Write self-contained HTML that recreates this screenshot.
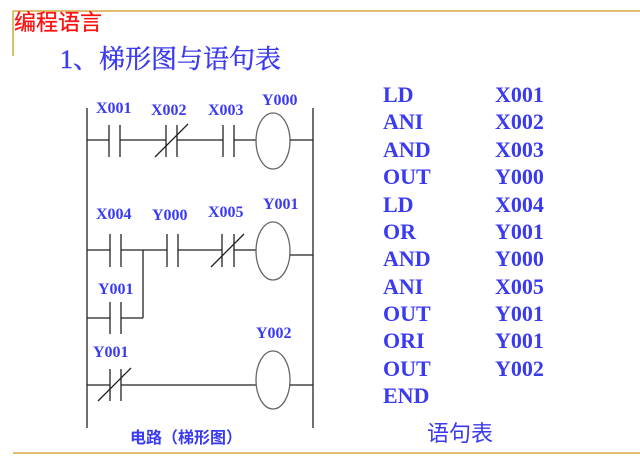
<!DOCTYPE html>
<html><head><meta charset="utf-8"><style>
body{margin:0;background:#fff;width:640px;height:464px;overflow:hidden}
</style></head><body>
<svg width="640" height="464" xmlns="http://www.w3.org/2000/svg" style="position:absolute;left:0;top:0">
<g stroke="#d4aa44" stroke-width="1.5" fill="none">
<line x1="13" y1="11" x2="640" y2="11"/>
<line x1="13" y1="11" x2="13" y2="56"/>
<line x1="13" y1="453" x2="640" y2="453"/>
</g>
<text x="14" y="30" font-family="Liberation Sans,'Noto Sans CJK SC',sans-serif" font-size="22" fill="#ff1010" stroke="#ff1010" stroke-width="0.3">编程语言</text>
<text x="60" y="68" font-family="Liberation Serif,'Noto Serif CJK SC',serif" font-size="26" fill="#3a3af0" stroke="#3a3af0" stroke-width="0.4">1、梯形图与语句表</text>
<g stroke="#222" stroke-width="1.3" fill="none">
<line x1="87" y1="108" x2="87" y2="428"/>
<line x1="313" y1="108" x2="313" y2="428"/>
<line x1="87" y1="140" x2="109" y2="140"/><line x1="109" y1="125" x2="109" y2="157"/><line x1="120" y1="125" x2="120" y2="157"/>
<line x1="120" y1="140" x2="166" y2="140"/><line x1="166" y1="125" x2="166" y2="157"/><line x1="177" y1="125" x2="177" y2="157"/><line x1="155" y1="157" x2="188" y2="124"/>
<line x1="177" y1="140" x2="223" y2="140"/><line x1="223" y1="125" x2="223" y2="157"/><line x1="234" y1="125" x2="234" y2="157"/>
<line x1="234" y1="140" x2="256" y2="140"/>
<ellipse cx="273" cy="141" rx="17" ry="28" stroke="#666"/>
<line x1="290" y1="140" x2="313" y2="140"/>
<line x1="87" y1="250" x2="110" y2="250"/><line x1="110" y1="234" x2="110" y2="267"/><line x1="121" y1="234" x2="121" y2="267"/>
<line x1="121" y1="250" x2="167" y2="250"/><line x1="167" y1="234" x2="167" y2="267"/><line x1="178" y1="234" x2="178" y2="267"/>
<line x1="178" y1="250" x2="222" y2="250"/><line x1="222" y1="234" x2="222" y2="267"/><line x1="234" y1="234" x2="234" y2="267"/><line x1="211" y1="267" x2="244" y2="234"/>
<line x1="234" y1="250" x2="256" y2="250"/>
<ellipse cx="273" cy="251" rx="17" ry="29" stroke="#666"/>
<line x1="290" y1="255" x2="313" y2="255"/>
<line x1="143" y1="250" x2="143" y2="318"/>
<line x1="87" y1="318" x2="110" y2="318"/><line x1="110" y1="302" x2="110" y2="334"/><line x1="121" y1="302" x2="121" y2="334"/><line x1="121" y1="318" x2="143" y2="318"/>
<line x1="87" y1="385" x2="110" y2="385"/><line x1="110" y1="369" x2="110" y2="401"/><line x1="121" y1="369" x2="121" y2="401"/><line x1="98" y1="401" x2="131" y2="368"/>
<line x1="121" y1="385" x2="256" y2="385"/>
<ellipse cx="273" cy="380" rx="17" ry="29" stroke="#666"/>
<line x1="290" y1="385" x2="313" y2="385"/>
</g>
<g font-family="Liberation Serif,serif" font-weight="bold" font-size="16" fill="#3a3af0">
<text x="96" y="113">X001</text><text x="151" y="115">X002</text><text x="208" y="115">X003</text><text x="262" y="105">Y000</text>
<text x="96" y="219">X004</text><text x="152" y="220">Y000</text><text x="208" y="217">X005</text><text x="263" y="209">Y001</text>
<text x="98" y="294">Y001</text><text x="93" y="357">Y001</text><text x="256" y="338">Y002</text>
</g>
<text x="130" y="443" font-family="Liberation Sans,'Noto Sans CJK SC',sans-serif" font-weight="bold" font-size="16" fill="#3a3af0">电路（梯形图）</text>
<g font-family="Liberation Serif,serif" font-weight="bold" font-size="22" fill="#3a3af0">
<text x="383" y="102">LD</text><text x="495" y="102">X001</text>
<text x="383" y="129">ANI</text><text x="495" y="129">X002</text>
<text x="383" y="157">AND</text><text x="495" y="157">X003</text>
<text x="383" y="184">OUT</text><text x="495" y="184">Y000</text>
<text x="383" y="212">LD</text><text x="495" y="212">X004</text>
<text x="383" y="239">OR</text><text x="495" y="239">Y001</text>
<text x="383" y="266">AND</text><text x="495" y="266">Y000</text>
<text x="383" y="294">ANI</text><text x="495" y="294">X005</text>
<text x="383" y="321">OUT</text><text x="495" y="321">Y001</text>
<text x="383" y="348">ORI</text><text x="495" y="348">Y001</text>
<text x="383" y="376">OUT</text><text x="495" y="376">Y002</text>
<text x="383" y="403">END</text>
</g>
<text x="427" y="441" font-family="Liberation Sans,'Noto Sans CJK SC',sans-serif" font-size="22" fill="#3a3af0">语句表</text>
</svg>
</body></html>
